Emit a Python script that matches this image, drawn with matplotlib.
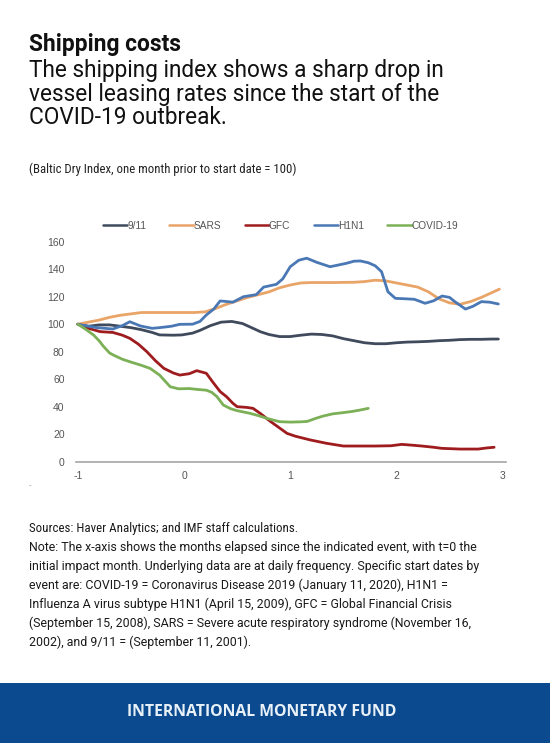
import numpy as np
import matplotlib
matplotlib.use("Agg")
import matplotlib.pyplot as plt
from matplotlib import font_manager

# ---------------- data (months since event, index value) ----------------
x_911 = [-1, -0.9, -0.8, -0.7, -0.6, -0.5, -0.4, -0.3, -0.23, -0.1, -0.02, 0.08, 0.15,
         0.25, 0.35, 0.45, 0.55, 0.65, 0.72, 0.8, 0.9, 1.0, 1.1, 1.2, 1.3, 1.4, 1.5, 1.6,
         1.7, 1.8, 1.9, 2.0, 2.1, 2.2, 2.3, 2.4, 2.5, 2.6, 2.7, 2.8, 2.9, 2.96]
y_911 = [100, 98.5, 99.5, 99.5, 98.5, 97.5, 96, 94, 92.2, 92, 92.2, 93.5, 95.5,
         99, 101.5, 102, 100.5, 97, 94.5, 92.5, 91, 91, 92, 92.8, 92.5, 91.5, 89.5, 88,
         86.5, 85.8, 85.8, 86.5, 87, 87.2, 87.5, 88, 88.3, 88.8, 89, 89, 89.2, 89.2]

x_sars = [-1, -0.9, -0.8, -0.7, -0.6, -0.5, -0.4, -0.3, -0.1, 0.1, 0.2, 0.3, 0.4, 0.5,
          0.6, 0.7, 0.8, 0.9, 1.0, 1.1, 1.2, 1.4, 1.6, 1.7, 1.8, 1.9, 2.0, 2.1, 2.2, 2.3,
          2.4, 2.5, 2.6, 2.7, 2.8, 2.9, 2.97]
y_sars = [100, 101.5, 103, 105, 106.5, 107.5, 108.5, 108.5, 108.5, 108.5, 109, 111.5, 114.5, 117,
          119.5, 121.5, 123.5, 126.5, 128.5, 130, 130.3, 130.3, 130.5, 131, 132, 131.5, 130, 128.5, 127, 123.6,
          118.5, 115.5, 114.5, 116.5, 119.5, 123, 125.5]

x_gfc = [-1, -0.9, -0.79, -0.67, -0.58, -0.51, -0.43, -0.35, -0.27, -0.19, -0.1, -0.04, 0.05,
         0.12, 0.21, 0.27, 0.34, 0.4, 0.46, 0.5, 0.59, 0.65, 0.72, 0.81, 0.9, 0.97, 1.05,
         1.19, 1.34, 1.5, 1.66, 1.8, 1.95, 2.05, 2.15, 2.24, 2.35, 2.43, 2.6, 2.77, 2.85, 2.92]
y_gfc = [100, 97, 94.6, 94, 92, 89.7, 85.5, 80, 73.5, 67.9, 64.5, 63, 64,
         66.2, 64.3, 58, 51, 47.3, 42.5, 40, 39.5, 38.8, 35, 29.5, 24.5, 20.6, 18.5,
         15.8, 13.4, 11.4, 11.4, 11.4, 11.6, 12.6, 12, 11.4, 10.5, 9.7, 9.2, 9.2, 10, 10.5]

x_h1n1 = [-1, -0.9, -0.82, -0.67, -0.58, -0.51, -0.41, -0.3, -0.23, -0.12, -0.04, 0.08, 0.15,
          0.21, 0.28, 0.34, 0.4, 0.46, 0.56, 0.68, 0.75, 0.81, 0.87, 0.93, 1.0, 1.08, 1.155,
          1.25, 1.375, 1.45, 1.53, 1.6, 1.66, 1.735, 1.8, 1.86, 1.92, 1.99, 2.08, 2.17, 2.27,
          2.35, 2.43, 2.5, 2.55, 2.65, 2.72, 2.8, 2.88, 2.96]
y_h1n1 = [100, 98.5, 97.5, 96.5, 99, 101.8, 98.7, 97, 97.5, 98.5, 99.9, 100, 102,
          106.7, 111, 116.9, 116.5, 116, 120, 121.5, 127, 128, 129, 133, 141.8, 146.5, 148,
          145, 141.8, 143, 144.3, 145.8, 146, 144.7, 142.5, 138.2, 123.6, 118.8, 118.5, 118.1, 115.2,
          117, 120.5, 119.5, 116.4, 111, 113, 116.4, 116, 114.7]

x_covid = [-1, -0.92, -0.85, -0.8, -0.76, -0.7, -0.65, -0.58, -0.51, -0.41, -0.32, -0.23, -0.13,
           -0.05, 0.05, 0.12, 0.21, 0.26, 0.31, 0.37, 0.44, 0.5, 0.62, 0.7, 0.78, 0.9, 1.0,
           1.1, 1.16, 1.24, 1.31, 1.4, 1.5, 1.58, 1.66, 1.735]
y_covid = [100, 96, 92, 88, 84, 79, 77, 74.5, 72.7, 70.3, 67.9, 63, 54.5,
           53, 53.2, 52.6, 52, 50.5, 47.3, 41.2, 38.5, 37.1, 35.2, 33.5, 31.5, 29.1, 28.8,
           29, 29.3, 31.5, 33.2, 34.8, 35.7, 36.5, 37.6, 38.8]

series_names = ["9/11", "SARS", "GFC", "H1N1", "COVID-19"]
series_x = [x_911, x_sars, x_gfc, x_h1n1, x_covid]
series_y = [y_911, y_sars, y_gfc, y_h1n1, y_covid]
series_colors = ["#3f4a5c", "#e9a468", "#9e1b1e", "#4a78b5", "#7cb057"]

x_ticks = [-1, 0, 1, 2, 3]
y_ticks = [0, 20, 40, 60, 80, 100, 120, 140, 160]

title = "Shipping costs"
subtitle_lines = ["The shipping index shows a sharp drop in",
                  "vessel leasing rates since the start of the",
                  "COVID-19 outbreak."]
unit_note = "(Baltic Dry Index, one month prior to start date = 100)"
source_line = "Sources: Haver Analytics; and IMF staff calculations."
note_lines = ["Note: The x-axis shows the months elapsed since the indicated event, with t=0 the",
              "initial impact month. Underlying data are at daily frequency. Specific start dates by",
              "event are: COVID-19 = Coronavirus Disease 2019 (January 11, 2020), H1N1 =",
              "Influenza A virus subtype H1N1 (April 15, 2009), GFC = Global Financial Crisis",
              "(September 15, 2008), SARS = Severe acute respiratory syndrome (November 16,",
              "2002), and 9/11 = (September 11, 2001)."]
banner_text = "INTERNATIONAL MONETARY FUND"

# ---------------- fonts ----------------
avail = {f.name for f in font_manager.fontManager.ttflist}
def pick(*names):
    for n in names:
        if n in avail:
            return n
    return "DejaVu Sans"
ROBOTO = pick("Roboto", "Open Sans", "DejaVu Sans")
NARROW = pick("Liberation Sans Narrow", "Roboto Condensed", "Roboto")
ARIAL = pick("Liberation Sans", "Arimo", "DejaVu Sans")
BANNER = pick("Open Sans", "Lato", "Roboto")
narrow_is_real = NARROW in ("Liberation Sans Narrow", "Roboto Condensed")

W, H = 550, 743
fig = plt.figure(figsize=(W / 100, H / 100), dpi=100)
fig.patch.set_facecolor("white")

def fx(px):
    return px / W

def fy(py):
    return 1 - py / H

# ---------------- header ----------------
fig.text(fx(29), fy(50.7), title, fontfamily=ROBOTO, fontweight="bold",
         fontsize=16.4, color="#111111", va="baseline", ha="left")
for i, line in enumerate(subtitle_lines):
    fig.text(fx(29), fy(77.3 + 23.4 * i), line, fontfamily=ROBOTO,
             fontsize=16.3, color="#111111", va="baseline", ha="left")
fig.text(fx(29), fy(173), unit_note, fontfamily=NARROW,
         fontsize=(9.2 if narrow_is_real else 7.6), color="#222222",
         va="baseline", ha="left")

# ---------------- chart ----------------
ax_l, ax_r = 75.7, 505.8
ax_t, ax_b = 241.7, 461.7
ax = fig.add_axes([fx(ax_l), fy(ax_b), (ax_r - ax_l) / W, (ax_b - ax_t) / H])
for name, xs, ys, c in zip(series_names, series_x, series_y, series_colors):
    ax.plot(xs, ys, color=c, lw=2.0, label=name, solid_capstyle="round",
            solid_joinstyle="round")

ax.set_xlim(-1.02, 3.03)
ax.set_ylim(0, 160)
ax.set_xticks(x_ticks)
ax.set_xticklabels([str(t) for t in x_ticks])
ax.set_yticks(y_ticks)
ax.set_yticklabels([str(t) for t in y_ticks])
for s in ["top", "right", "left"]:
    ax.spines[s].set_visible(False)
ax.spines["bottom"].set_color("#a6a6a6")
ax.spines["bottom"].set_linewidth(1.2)
ax.tick_params(axis="both", length=0, labelsize=7.5, labelcolor="#555555")
ax.tick_params(axis="y", pad=8)
ax.tick_params(axis="x", pad=7)
for lab in ax.get_xticklabels() + ax.get_yticklabels():
    lab.set_fontfamily(ARIAL)
ax.set_facecolor("none")

leg = ax.legend(loc="center", bbox_to_anchor=(fx(280.5), fy(226)),
                bbox_transform=fig.transFigure, ncol=5, frameon=False,
                handlelength=2.4, handletextpad=0.0, columnspacing=2.3,
                prop={"family": ARIAL, "size": 7.3}, borderpad=0)
for t in leg.get_texts():
    t.set_color("#555555")
for h in leg.get_lines():
    h.set_linewidth(1.8)

fig.text(fx(30), fy(487), "-", fontsize=5, color="#888888", ha="center", va="baseline")

# ---------------- footer ----------------
fig.text(fx(29), fy(532), source_line, fontfamily=NARROW,
         fontsize=(9.3 if narrow_is_real else 8.1), color="#1a1a1a",
         va="baseline", ha="left")
for i, line in enumerate(note_lines):
    fig.text(fx(29), fy(551 + 19 * i), line, fontfamily=ROBOTO, fontsize=8.9,
             color="#1a1a1a", va="baseline", ha="left")

banner = plt.Rectangle((0, 0), 1, (H - 682.7) / H, transform=fig.transFigure,
                       facecolor="#0b4a8e", edgecolor="none", zorder=0)
fig.patches.append(banner)
fig.text(fx(261.7), fy(715.7), banner_text, fontfamily=BANNER, fontweight="bold",
         fontsize=11.3, color="#e8f0f8", ha="center", va="baseline", zorder=2)

fig.savefig("out.png", dpi=100)
